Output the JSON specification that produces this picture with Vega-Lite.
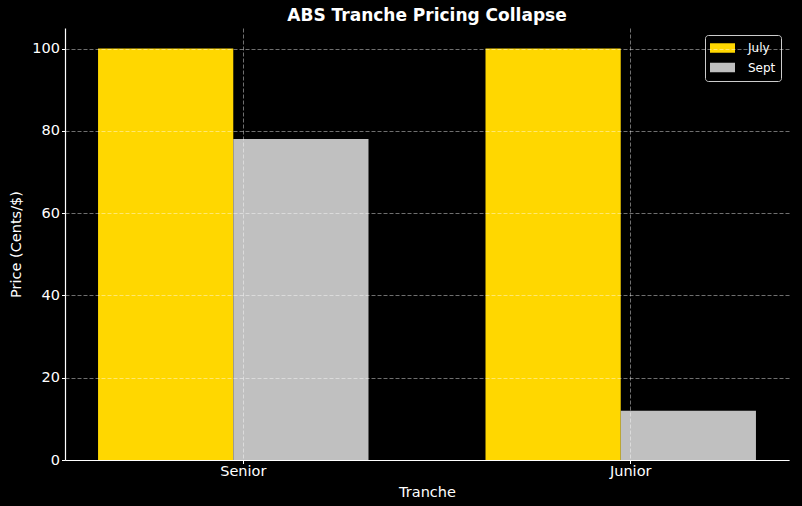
{
  "$schema": "https://vega.github.io/schema/vega-lite/v6.json",
  "width": 724,
  "height": 432,
  "autosize": {"type": "none"},
  "padding": {"left": 65, "top": 28, "right": 13, "bottom": 46},
  "background": "#000000",
  "title": {
    "text": "ABS Tranche Pricing Collapse",
    "font": "DejaVu Sans",
    "fontSize": 17,
    "fontWeight": "bold",
    "color": "#ffffff",
    "anchor": "middle",
    "offset": 3
  },
  "config": {
    "view": {"stroke": null},
    "font": "DejaVu Sans"
  },
  "data": {
    "values": [
      {"Tranche": "Senior", "Month": "July", "Price": 100},
      {"Tranche": "Senior", "Month": "Sept", "Price": 78},
      {"Tranche": "Junior", "Month": "July", "Price": 100},
      {"Tranche": "Junior", "Month": "Sept", "Price": 12}
    ]
  },
  "mark": {"type": "bar"},
  "encoding": {
    "x": {
      "field": "Tranche",
      "type": "nominal",
      "sort": ["Senior", "Junior"],
      "scale": {"paddingInner": 0.302, "paddingOuter": 0.0853},
      "axis": {
        "title": "Tranche",
        "labelAngle": 0,
        "bandPosition": 0.536,
        "labelOffset": 10,
        "labelColor": "#ffffff",
        "labelFontSize": 14.5,
        "labelPadding": 1,
        "titleColor": "#ffffff",
        "titleFontSize": 14.5,
        "titleFontWeight": "normal",
        "titlePadding": 7,
        "domainColor": "#ffffff",
        "domainWidth": 1.2,
        "tickColor": "#ffffff",
        "tickSize": 3.5,
        "grid": true,
        "gridColor": "#ffffff",
        "gridOpacity": 0.55,
        "gridWidth": 0.8,
        "gridDash": [4, 2],
        "zindex": 1
      }
    },
    "xOffset": {
      "field": "Month",
      "type": "nominal",
      "sort": ["July", "Sept"],
      "scale": {"paddingInner": 0, "paddingOuter": 0}
    },
    "y": {
      "field": "Price",
      "type": "quantitative",
      "scale": {"domain": [0, 105], "nice": false},
      "axis": {
        "title": "Price (Cents/$)",
        "values": [0, 20, 40, 60, 80, 100],
        "labelColor": "#ffffff",
        "labelFontSize": 14.5,
        "labelPadding": 2,
        "titleColor": "#ffffff",
        "titleFontSize": 14.5,
        "titleFontWeight": "normal",
        "titlePadding": 8,
        "domainColor": "#ffffff",
        "domainWidth": 1.2,
        "tickColor": "#ffffff",
        "tickSize": 3.5,
        "grid": true,
        "gridColor": "#ffffff",
        "gridOpacity": 0.55,
        "gridWidth": 0.8,
        "gridDash": [4, 2],
        "zindex": 1
      }
    },
    "color": {
      "field": "Month",
      "type": "nominal",
      "sort": ["July", "Sept"],
      "scale": {"domain": ["July", "Sept"], "range": ["#FFD700", "#C0C0C0"]},
      "legend": {
        "title": null,
        "orient": "none",
        "legendX": 640,
        "legendY": 7,
        "fillColor": "#000000",
        "strokeColor": "#cccccc",
        "cornerRadius": 3,
        "padding": 5,
        "symbolType": "M-1,-0.375L1,-0.375L1,0.375L-1,0.375Z",
        "symbolSize": 625,
        "symbolStrokeWidth": 0,
        "symbolOpacity": 1,
        "clipHeight": 16,
        "labelColor": "#ffffff",
        "labelFontSize": 12,
        "labelOffset": 13,
        "labelBaseline": "middle",
        "rowPadding": 3.5
      }
    }
  }
}
